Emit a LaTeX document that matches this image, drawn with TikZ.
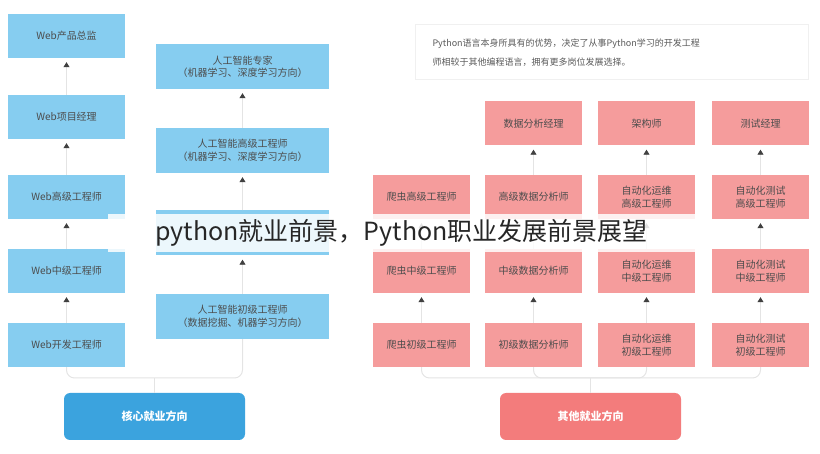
\documentclass[tikz,border=0pt]{standalone}
\usepackage{fontspec}
\setmainfont{Noto Sans CJK SC}
\usetikzlibrary{arrows.meta, positioning}
\definecolor{skyb}{HTML}{86CDF0}
\definecolor{coreb}{HTML}{3BA3DE}
\definecolor{pinkb}{HTML}{F59C9C}
\definecolor{otherb}{HTML}{F37C7C}
\definecolor{linkg}{HTML}{E4E4E4}
\tikzset{
	bluebox/.style  = {rectangle, draw=none, fill=skyb, align=center,
		inner sep=0pt, text=black!70, font=\fontsize{10}{12.5}\selectfont},
	pinkbox/.style  = {rectangle, draw=none, fill=pinkb, align=center,
		minimum width=97pt, minimum height=44pt, inner sep=0pt,
		text=black!70, font=\fontsize{10}{12.5}\selectfont},
	mainbtn/.style  = {rectangle, rounded corners=6pt, minimum width=181pt,
		minimum height=47pt, text=white, font=\bfseries\fontsize{11}{13}\selectfont},
	up/.style       = {draw=linkg, line width=0.8pt,
		-{Triangle[length=5pt,width=6pt,color=black!75]}, shorten >=4pt},
	trunk/.style    = {draw=linkg, line width=1pt, rounded corners=8pt},
}
\begin{document}
\begin{tikzpicture}[x=1pt, y=-1pt]
	\useasboundingbox (0,0) rectangle (820,454);
	% core direction
	\node[bluebox, minimum width=117pt, minimum height=44pt] (web5) at (66.5,345) {Web开发工程师};
	\node[bluebox, minimum width=117pt, minimum height=44pt] (web4) at (66.5,271) {Web中级工程师};
	\node[bluebox, minimum width=117pt, minimum height=44pt] (web3) at (66.5,197) {Web高级工程师};
	\node[bluebox, minimum width=117pt, minimum height=44pt] (web2) at (66.5,117) {Web项目经理};
	\node[bluebox, minimum width=117pt, minimum height=44pt] (web1) at (66.5,36) {Web产品总监};
	\node[bluebox, minimum width=173pt, minimum height=45pt] (ai4) at (242.5,316.5) {人工智能初级工程师\\（数据挖掘、机器学习方向）};
	\node[bluebox, minimum width=173pt, minimum height=45pt] (ai3) at (242.5,233) {};
	\node[bluebox, minimum width=173pt, minimum height=45pt] (ai2) at (242.5,150.5) {人工智能高级工程师\\（机器学习、深度学习方向）};
	\node[bluebox, minimum width=173pt, minimum height=45pt] (ai1) at (242.5,66.5) {人工智能专家\\（机器学习、深度学习方向）};
	\node[mainbtn, fill=coreb] (core) at (154.5,416.5) {核心就业方向};
	\foreach \a/\b in {web5/web4, web4/web3, web3/web2, web2/web1, ai4/ai3, ai3/ai2, ai2/ai1}
		\draw[up] (\a) -- (\b);
	\coordinate (cj) at (154.5,378);
	\draw[trunk] (web5.south) |- (cj) -| (ai4.south);
	\draw[trunk] (cj) -- (core.north);
	% other directions
	\node[draw=black!6, line width=1pt, minimum width=393pt, minimum height=55pt] (intro) at (611.5,52.5) {};
	\node[anchor=north west, align=left, text=black!65, font=\fontsize{9}{19}\selectfont]
		(introtxt) at (429,35) {Python语言本身所具有的优势，决定了从事Python学习的开发工程\\师相较于其他编程语言，拥有更多岗位发展选择。};
	\node[pinkbox] (sp3) at (421.5,345) {爬虫初级工程师};
	\node[pinkbox] (sp2) at (421.5,271) {爬虫中级工程师};
	\node[pinkbox] (sp1) at (421.5,197) {爬虫高级工程师};
	\node[pinkbox] (da4) at (533.5,345) {初级数据分析师};
	\node[pinkbox] (da3) at (533.5,271) {中级数据分析师};
	\node[pinkbox] (da2) at (533.5,197) {高级数据分析师};
	\node[pinkbox] (da1) at (533.5,123.5) {数据分析经理};
	\node[pinkbox] (ops4) at (646.5,345) {自动化运维\\初级工程师};
	\node[pinkbox] (ops3) at (646.5,271) {自动化运维\\中级工程师};
	\node[pinkbox] (ops2) at (646.5,197) {自动化运维\\高级工程师};
	\node[pinkbox] (ops1) at (646.5,123.5) {架构师};
	\node[pinkbox] (qa4) at (760.5,345) {自动化测试\\初级工程师};
	\node[pinkbox] (qa3) at (760.5,271) {自动化测试\\中级工程师};
	\node[pinkbox] (qa2) at (760.5,197) {自动化测试\\高级工程师};
	\node[pinkbox] (qa1) at (760.5,123.5) {测试经理};
	\node[mainbtn, fill=otherb] (other) at (590.5,416.5) {其他就业方向};
	\foreach \a/\b in {sp3/sp2, sp2/sp1, da4/da3, da3/da2, da2/da1, ops4/ops3, ops3/ops2, ops2/ops1, qa4/qa3, qa3/qa2, qa2/qa1}
		\draw[up] (\a) -- (\b);
	\coordinate (oj) at (590.5,378);
	\draw[trunk] (sp3.south) |- (oj) -| (qa4.south);
	\draw[trunk] (da4.south) |- (oj) -| (ops4.south);
	\draw[trunk] (oj) -- (other.north);
	% title banner
	\node[fill=white, fill opacity=0.85, minimum width=587pt, minimum height=38pt,
		inner sep=0pt] (banner) at (401.5,233) {};
	\node[anchor=west, text=black!85, font=\fontsize{25}{28}\selectfont] (title) at (152,233)
		{python就业前景，Python职业发展前景展望};
\end{tikzpicture}
\end{document}
